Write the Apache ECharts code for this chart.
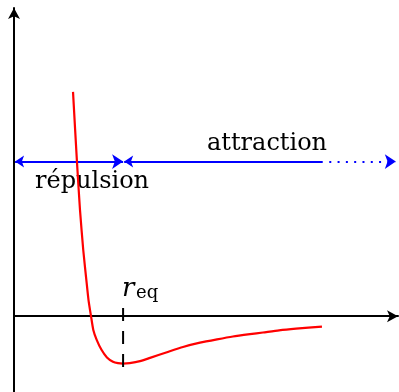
<!DOCTYPE html>
<html>
<head>
<meta charset="utf-8">
<script src="https://cdn.jsdelivr.net/npm/echarts@6/dist/echarts.min.js"></script>
<style>
html,body{margin:0;padding:0;background:#fff;}
#chart{width:399px;height:392px;}
</style>
</head>
<body>
<div id="chart"></div>
<script>
// Potential curve (r in units of r_eq, energy in units of well depth)
const rVals = [0.541, 0.577, 0.605, 0.635, 0.666, 0.683, 0.706, 0.727, 0.758, 0.802, 0.852, 0.907, 0.953, 0.999, 1.060, 1.155, 1.247, 1.402, 1.549, 1.705, 1.861, 2.007, 2.163, 2.282, 2.430, 2.585, 2.823];
const energyVals = [4.73, 3.26, 2.24, 1.39, 0.70, 0.34, 0.00, -0.29, -0.50, -0.71, -0.87, -0.96, -0.99, -1.00, -0.99, -0.95, -0.88, -0.76, -0.65, -0.56, -0.49, -0.43, -0.38, -0.345, -0.30, -0.265, -0.22];
// Equilibrium distance and dashed marker extent
const rEq = 1.0;
const eqMarkerY = [0.17, -1.12];
// Arrow level and extents
const arrowLevel = 3.26;
const repulsionRange = [0.01, 1.0];
const attractionSolid = [1.0, 2.83];
const attractionDotted = [2.83, 3.50];
// Axis ranges
const xRange = [0, 3.52];
const yRange = [-1.6, 6.5];
const labels = {repulsion: 'répulsion', attraction: 'attraction', r: 'r', sub: 'eq'};

const chart = echarts.init(document.getElementById('chart'));
const blue = '#0000ff';
const arrowSize = [9, 11];
const option = {
  animation: false,
  grid: {left: 14, right: 1, top: 8, bottom: 0, containLabel: false},
  xAxis: {
    type: 'value', min: xRange[0], max: xRange[1],
    axisLine: {show: true, onZero: true, symbol: ['none', 'arrow'], symbolSize: arrowSize, lineStyle: {color: '#000', width: 2}},
    axisTick: {show: false}, axisLabel: {show: false}, splitLine: {show: false}
  },
  yAxis: {
    type: 'value', min: yRange[0], max: yRange[1],
    axisLine: {show: true, onZero: true, symbol: ['none', 'arrow'], symbolSize: arrowSize, lineStyle: {color: '#000', width: 2}},
    axisTick: {show: false}, axisLabel: {show: false}, splitLine: {show: false}
  },
  series: [
    {
      type: 'lines', coordinateSystem: 'cartesian2d', z: 3,
      symbol: ['arrow', 'arrow'], symbolSize: arrowSize,
      lineStyle: {color: blue, width: 2, opacity: 1, curveness: 0},
      data: [{coords: [[repulsionRange[0], arrowLevel], [repulsionRange[1], arrowLevel]]}]
    },
    {
      type: 'lines', coordinateSystem: 'cartesian2d', z: 3,
      symbol: ['arrow', 'none'], symbolSize: arrowSize,
      lineStyle: {color: blue, width: 2, opacity: 1, curveness: 0},
      data: [{coords: [[attractionSolid[0] + 0.01, arrowLevel], [attractionSolid[1], arrowLevel]]}]
    },
    {
      type: 'lines', coordinateSystem: 'cartesian2d', z: 3,
      symbol: ['none', 'arrow'], symbolSize: arrowSize,
      lineStyle: {color: blue, width: 2, opacity: 1, type: [2, 6.3], curveness: 0},
      data: [{coords: [[attractionDotted[0] + 0.06, arrowLevel], [attractionDotted[1], arrowLevel]]}]
    },
    {
      type: 'line', z: 4, showSymbol: false, smooth: 0.2,
      lineStyle: {color: '#ff0000', width: 2.2, join: 'round'},
      data: rVals.map((r, i) => [r, energyVals[i]])
    },
    {
      type: 'line', z: 5, showSymbol: false,
      lineStyle: {color: '#000', width: 2, type: [13, 10]},
      data: [[rEq, eqMarkerY[0]], [rEq, eqMarkerY[1]]]
    }
  ],
  graphic: [
    {type: 'text', left: 35, top: 170, style: {text: labels.repulsion, font: '24px "DejaVu Serif"', fill: '#000'}},
    {type: 'text', left: 207, top: 132, style: {text: labels.attraction, font: '24px "DejaVu Serif"', fill: '#000'}},
    {type: 'text', left: 122, top: 276, style: {text: labels.r, font: 'italic 26px "DejaVu Serif"', fill: '#000'}},
    {type: 'text', left: 136, top: 284, style: {text: labels.sub, font: '18px "DejaVu Serif"', fill: '#000'}}
  ]
};
chart.setOption(option);
</script>
</body>
</html>
